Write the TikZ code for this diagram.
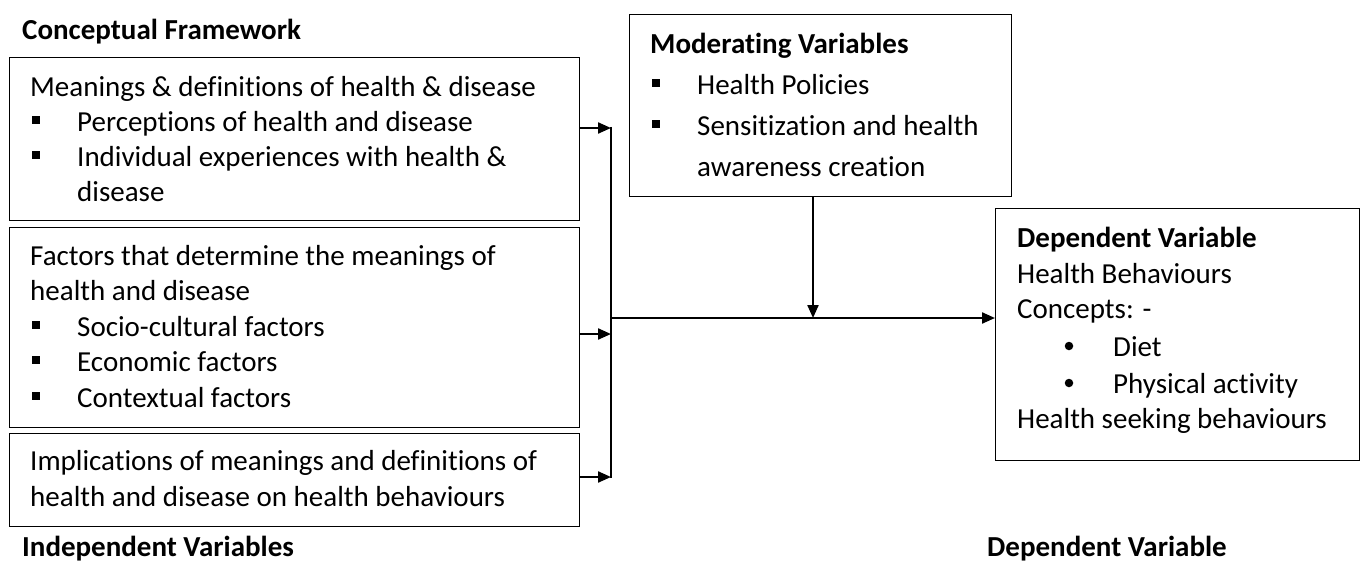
\documentclass[tikz,border=0pt]{standalone}
\usepackage{fontspec}
\setmainfont{Carlito}[RawFeature=-liga]
\usetikzlibrary{arrows.meta}
\begin{document}
\begin{tikzpicture}[x=1pt,y=-1pt,
  box/.style={draw, line width=1.3pt, inner sep=0pt, anchor=north west},
  txt/.style={anchor=base west, inner sep=0pt, font=\fontsize{29}{35}\selectfont},
  hd/.style={anchor=base west, inner sep=0pt, font=\fontsize{29}{35}\selectfont\bfseries},
  conn/.style={line width=2.2pt, -{Triangle[length=13pt,width=11pt]}},
  wire/.style={line width=2.2pt},
  sq/.style={fill, minimum size=8pt, inner sep=0pt, anchor=center},
  dotb/.style={circle, fill, minimum size=8.5pt, inner sep=0pt},
]
\useasboundingbox (0,0) rectangle (1363,563);

% boxes
\node[box, minimum width=570pt, minimum height=163pt] (b1) at (9,57) {};
\node[box, minimum width=570pt, minimum height=200pt] (b2) at (9,227) {};
\node[box, minimum width=570pt, minimum height=93pt] (b3) at (9,433) {};
\node[box, minimum width=382pt, minimum height=182pt] (mod) at (629,14) {};
\node[box, minimum width=364pt, minimum height=252pt] (dep) at (995,208) {};

% titles
\node[hd] (tcf) at (22,39) {Conceptual Framework};
\node[hd] (tiv) at (22,556) {Independent Variables};
\node[hd] (tdv) at (987,556) {Dependent Variable};

% box 1
\node[txt] (t11) at (30,96) {Meanings \& definitions of health \& disease};
\node[sq] (s12) at (36,120) {};
\node[txt] (t12) at (77,131) {Perceptions of health and disease};
\node[sq] (s13) at (36,155) {};
\node[txt] (t13) at (77,166) {Individual experiences with health \&};
\node[txt] (t14) at (77,201) {disease};

% box 2
\node[txt] (t21) at (30,265) {Factors that determine the meanings of};
\node[txt] (t22) at (30,300) {health and disease};
\node[sq] (s23) at (36,325) {};
\node[txt] (t23) at (77,336) {Socio-cultural factors};
\node[sq] (s24) at (36,360) {};
\node[txt] (t24) at (77,371) {Economic factors};
\node[sq] (s25) at (36,396) {};
\node[txt] (t25) at (77,407) {Contextual factors};

% box 3
\node[txt] (t31) at (30,470) {Implications of meanings and definitions of};
\node[txt] (t32) at (30,506) {health and disease on health behaviours};

% moderating
\node[hd] (m1) at (650,53) {Moderating Variables};
\node[sq] (ms2) at (656,83) {};
\node[txt] (m2) at (697,94) {Health Policies};
\node[sq] (ms3) at (656,124) {};
\node[txt] (m3) at (697,135) {Sensitization and health};
\node[txt] (m4) at (697,176) {awareness creation};

% dependent
\node[hd] (d1) at (1017,247) {Dependent Variable};
\node[txt] (d2) at (1017,283) {Health Behaviours};
\node[txt] (d3) at (1017,318) {Concepts: -};
\node[dotb] (dd4) at (1069,346) {};
\node[txt] (d4) at (1113,356) {Diet};
\node[dotb] (dd5) at (1069,383) {};
\node[txt] (d5) at (1113,393) {Physical activity};
\node[txt] (d6) at (1017,428) {Health seeking behaviours};

% connectors
\coordinate (j1) at (611,128);
\coordinate (j2) at (611,334);
\coordinate (j3) at (611,477);
\coordinate (jm) at (611,318);
\coordinate (jx) at (813,318);
\draw[conn] (b1.east |- j1) -- (j1);
\draw[conn] (b2.east |- j2) -- (j2);
\draw[conn] (b3.east |- j3) -- (j3);
\draw[wire] ([yshift=1.1pt]j1) -- ([yshift=-1.1pt]j3);
\draw[conn] (jm) -- (dep.west |- jm);
\draw[conn] (mod.south -| jx) -- (jx);
\end{tikzpicture}
\end{document}
